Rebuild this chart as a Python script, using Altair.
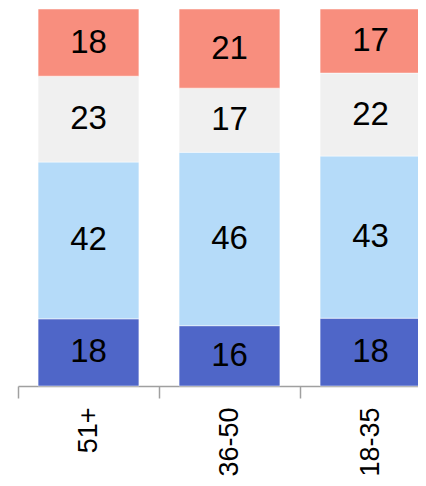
import altair as alt
import pandas as pd

categories = ["51+", "36-50", "18-35"]
series = ["Series 1", "Series 2", "Series 3", "Series 4"]
series1 = [18, 16, 18]   # dark blue (bottom)
series2 = [42, 46, 43]   # light blue
series3 = [23, 17, 22]   # light gray
series4 = [18, 21, 17]   # salmon (top)
colors = ["#4F66C8", "#B5DBF9", "#F0F0F0", "#F88E7E"]

rows = []
for si, (name, vals) in enumerate(zip(series, [series1, series2, series3, series4])):
    for c, v in zip(categories, vals):
        rows.append({"cat": c, "series": name, "order": si, "value": v})
df = pd.DataFrame(rows)

FONT = "Liberation Sans, Arial, sans-serif"

base = alt.Chart(df).transform_stack(
    stack="value",
    as_=["y0", "y1"],
    groupby=["cat"],
    sort=[alt.SortField("order", order="ascending")],
    offset="normalize",
).transform_calculate(mid="(datum.y0 + datum.y1) / 2")

x = alt.X(
    "cat:N",
    sort=categories,
    title=None,
    scale=alt.Scale(paddingInner=0, paddingOuter=0, range=[0, 423]),
    axis=alt.Axis(
        labelAngle=-90,
        tickBand="extent",
        tickSize=12,
        tickWidth=1.5,
        tickColor="#A0A0A0",
        domainColor="#A0A0A0",
        domainWidth=1.5,
        labelFont=FONT,
        labelFontSize=27,
        labelColor="black",
        labelPadding=9,
    ),
)
yscale = alt.Scale(domain=[0, 1], nice=False, zero=True)

bars = base.mark_bar(stroke="white", strokeWidth=0.5, width=alt.RelativeBandSize(0.715)).encode(
    x=x,
    y=alt.Y("y0:Q", scale=yscale, axis=None),
    y2="y1:Q",
    color=alt.Color("series:N", scale=alt.Scale(domain=series, range=colors), legend=None),
)

text = base.mark_text(font=FONT, fontSize=33, color="black", baseline="middle").encode(
    x=x,
    y=alt.Y("mid:Q", scale=yscale, axis=None),
    text="value:Q",
)

chart = (bars + text).properties(
    width=400,
    height=377,
    padding={"left": 10, "top": 1, "right": 0, "bottom": 92},
    autosize=alt.AutoSizeParams(type="none"),
).configure_view(strokeWidth=0)

chart.save("out.html", embed_options={"renderer": "svg", "actions": False})
